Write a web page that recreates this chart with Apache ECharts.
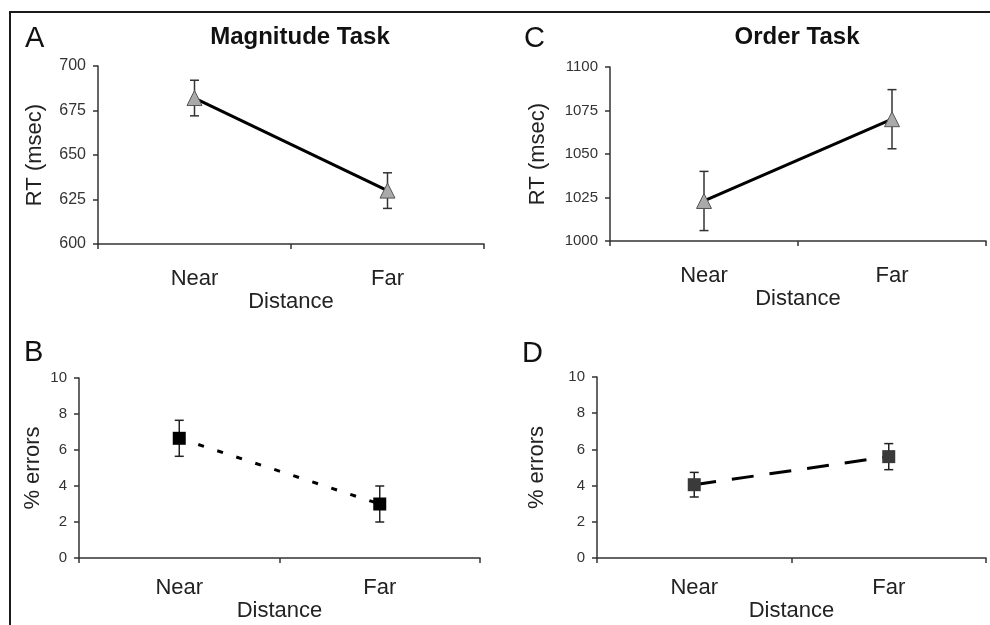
<!DOCTYPE html>
<html><head><meta charset="utf-8">
<script src="https://cdn.jsdelivr.net/npm/echarts@6/dist/echarts.min.js"></script>
<style>html,body{margin:0;padding:0;background:#fff}#c{width:990px;height:625px}</style>
</head><body><div id="c"></div>
<script>
// ---- data ----
const categories = ['Near', 'Far'];
const magRT = [682, 630];
const magRTErr = [10, 10];
const ordRT = [1023, 1070];
const ordRTErr = [17, 17];
const magErrPct = [6.65, 3.0];
const magErrPctSE = [1.0, 1.0];
const ordErrPct = [4.05, 5.6];
const ordErrPctSE = [0.68, 0.72];
const rtTicks = { mag: [600, 700, 25], ord: [1000, 1100, 25] };
const pctTicks = [0, 10, 2];

const FONT = "'Liberation Sans', Arial, sans-serif";
const chart = echarts.init(document.getElementById('c'));

const grids = [
  { left: 98, top: 66, width: 386, height: 178 },   // A
  { left: 610, top: 67, width: 376, height: 174 },  // C
  { left: 79, top: 378, width: 401, height: 180 },  // B
  { left: 597, top: 377, width: 389, height: 181 }  // D
];

function xAxis(i) {
  const top = i < 2;
  return {
    type: 'category', gridIndex: i, data: categories, boundaryGap: true,
    name: 'Distance', nameLocation: 'middle', nameGap: top ? 45 : 40,
    nameTextStyle: { fontFamily: FONT, fontSize: 22, color: '#222' },
    axisLine: { lineStyle: { color: '#333', width: 1.5 } },
    axisTick: { show: true, length: 5, lineStyle: { color: '#333', width: 1.5 } },
    axisLabel: { fontFamily: FONT, fontSize: 22, color: '#222', margin: top ? 24 : 19 },
    splitLine: { show: false }
  };
}
function yAxis(i, t, name, gap, fs) {
  return {
    type: 'value', gridIndex: i, min: t[0], max: t[1], interval: t[2],
    name: name, nameLocation: 'middle', nameGap: gap, nameRotate: 90,
    nameTextStyle: { fontFamily: FONT, fontSize: 22, color: '#222' },
    axisLine: { show: true, lineStyle: { color: '#333', width: 1.5 } },
    axisTick: { show: true, length: 5, lineStyle: { color: '#333', width: 1.5 } },
    axisLabel: { fontFamily: FONT, fontSize: fs, color: '#333', margin: 12, formatter: v => String(v) },
    splitLine: { show: false }
  };
}
function errSeries(i, vals, errs, color) {
  return {
    type: 'custom', xAxisIndex: i, yAxisIndex: i, z: 1,
    data: vals.map((v, k) => [k, v - errs[k], v + errs[k]]),
    renderItem: function (params, api) {
      const lo = api.coord([api.value(0), api.value(1)]);
      const hi = api.coord([api.value(0), api.value(2)]);
      const w = 4.5;
      const st = { stroke: color, lineWidth: 1.5, fill: 'none' };
      return { type: 'group', children: [
        { type: 'line', shape: { x1: lo[0], y1: lo[1], x2: hi[0], y2: hi[1] }, style: st },
        { type: 'line', shape: { x1: lo[0] - w, y1: lo[1], x2: lo[0] + w, y2: lo[1] }, style: st },
        { type: 'line', shape: { x1: hi[0] - w, y1: hi[1], x2: hi[0] + w, y2: hi[1] }, style: st }
      ]};
    }
  };
}
function lineSeries(i, vals, opts) {
  return {
    type: 'line', xAxisIndex: i, yAxisIndex: i, z: 3, data: vals,
    symbol: opts.symbol, symbolSize: opts.size,
    itemStyle: { color: opts.fill, borderColor: opts.border, borderWidth: opts.bw },
    lineStyle: { color: '#000', width: 3, type: opts.ltype },
    animation: false
  };
}

chart.setOption({
  animation: false,
  backgroundColor: '#fff',
  grid: grids,
  xAxis: [0, 1, 2, 3].map(xAxis),
  yAxis: [
    yAxis(0, rtTicks.mag, 'RT (msec)', 52, 16),
    yAxis(1, rtTicks.ord, 'RT (msec)', 61, 15),
    yAxis(2, pctTicks, '% errors', 35, 15),
    yAxis(3, pctTicks, '% errors', 49, 15)
  ],
  series: [
    errSeries(0, magRT, magRTErr, '#333'),
    lineSeries(0, magRT, { symbol: 'triangle', size: 15, fill: '#aaaaaa', border: '#555', bw: 1, ltype: 'solid' }),
    errSeries(1, ordRT, ordRTErr, '#333'),
    lineSeries(1, ordRT, { symbol: 'triangle', size: 15, fill: '#aaaaaa', border: '#555', bw: 1, ltype: 'solid' }),
    errSeries(2, magErrPct, magErrPctSE, '#222'),
    lineSeries(2, magErrPct, { symbol: 'rect', size: 13, fill: '#000', border: '#000', bw: 0, ltype: [6, 14] }),
    errSeries(3, ordErrPct, ordErrPctSE, '#222'),
    lineSeries(3, ordErrPct, { symbol: 'rect', size: 13, fill: '#3a3a3a', border: '#3a3a3a', bw: 0, ltype: [22, 16] })
  ],
  graphic: [
    { type: 'line', shape: { x1: 9, y1: 12, x2: 990, y2: 12 }, style: { stroke: '#1a1a1a', lineWidth: 2 } },
    { type: 'line', shape: { x1: 10, y1: 11, x2: 10, y2: 625 }, style: { stroke: '#1a1a1a', lineWidth: 2 } },
    { type: 'text', x: 25, y: 39, style: { text: 'A', font: `normal 29px ${FONT}`, fill: '#111', textVerticalAlign: 'middle' } },
    { type: 'text', x: 524, y: 39, style: { text: 'C', font: `normal 29px ${FONT}`, fill: '#111', textVerticalAlign: 'middle' } },
    { type: 'text', x: 24, y: 353, style: { text: 'B', font: `normal 29px ${FONT}`, fill: '#111', textVerticalAlign: 'middle' } },
    { type: 'text', x: 522, y: 354, style: { text: 'D', font: `normal 29px ${FONT}`, fill: '#111', textVerticalAlign: 'middle' } },
    { type: 'text', x: 300, y: 37, style: { text: 'Magnitude Task', font: `bold 24px ${FONT}`, fill: '#111', textAlign: 'center', textVerticalAlign: 'middle' } },
    { type: 'text', x: 797, y: 37, style: { text: 'Order Task', font: `bold 24px ${FONT}`, fill: '#111', textAlign: 'center', textVerticalAlign: 'middle' } }
  ]
});
</script></body></html>
